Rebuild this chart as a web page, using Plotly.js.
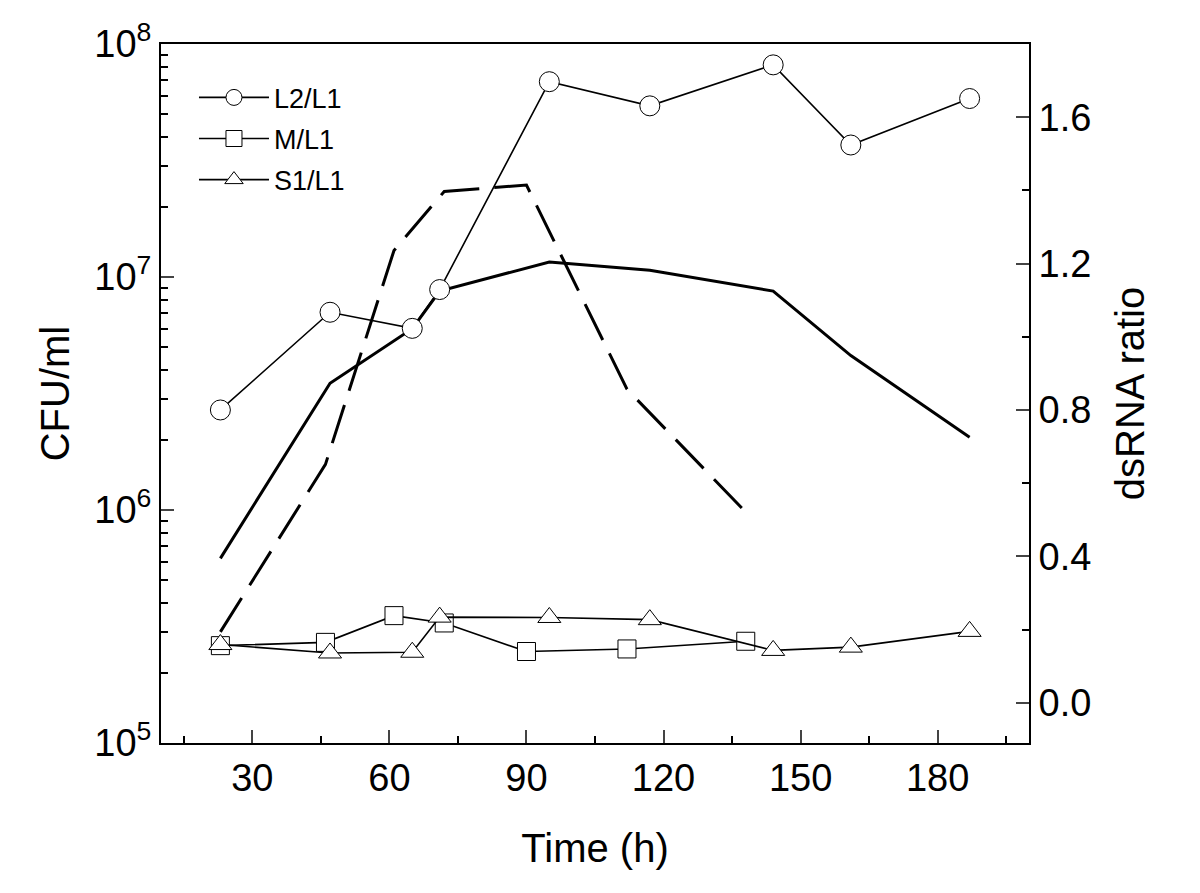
<!DOCTYPE html>
<html>
<head>
<meta charset="utf-8">
<script src="https://cdn.plot.ly/plotly-3.0.1.min.js"></script>
<style>html,body{margin:0;padding:0;background:#fff;}#chart{width:1200px;height:893px;}</style>
</head>
<body>
<div id="chart"></div>
<script>
// Sampling times (h)
const timesA = [23, 47, 65, 71, 95, 117, 144, 161, 187];
const timesB = [23, 46, 61, 72, 90, 112, 138];

// CFU/ml (left, log axis)
const cfuSolid  = [6.2e5, 3.5e6, 6.0e6, 8.7e6, 1.16e7, 1.07e7, 8.7e6, 4.6e6, 2.05e6];
const cfuDashed = [3.0e5, 1.57e6, 1.30e7, 2.33e7, 2.48e7, 3.3e6, 9.8e5];

// dsRNA ratios (right axis)
const ratioL2 = [0.80, 1.067, 1.023, 1.129, 1.697, 1.631, 1.743, 1.524, 1.651];
const ratioM  = [0.156, 0.165, 0.238, 0.218, 0.140, 0.147, 0.168];
const ratioS1 = [0.159, 0.136, 0.138, 0.234, 0.233, 0.227, 0.143, 0.152, 0.195];

const xTicks = [30, 60, 90, 120, 150, 180];
const yTicks = [1e5, 1e6, 1e7, 1e8];
const yTickText = ['10<sup>5</sup>', '10<sup>6</sup>', '10<sup>7</sup>', '10<sup>8</sup>'];
const y2Ticks = [0.0, 0.4, 0.8, 1.2, 1.6];

const FONT = 'Arial, "Liberation Sans", Helvetica, sans-serif';

const minorLog = [];
[1e5, 1e6, 1e7].forEach(d => { for (let k = 2; k <= 9; k++) minorLog.push(k * d); });

const traces = [
  {x: timesA, y: cfuSolid, type: 'scatter', mode: 'lines', yaxis: 'y',
   line: {color: '#000', width: 3}, showlegend: false, hoverinfo: 'skip'},
  {x: timesB, y: cfuDashed, type: 'scatter', mode: 'lines', yaxis: 'y',
   line: {color: '#000', width: 3, dash: '40px,15px'}, showlegend: false, hoverinfo: 'skip'},
  {x: timesA, y: ratioL2, type: 'scatter', mode: 'lines+markers', yaxis: 'y2', name: 'L2/L1',
   legendgroup: 'a',
   line: {color: '#000', width: 1.6},
   marker: {symbol: 'circle', size: 20, color: '#fff', line: {color: '#000', width: 1}}},
  {x: timesB, y: ratioM, type: 'scatter', mode: 'lines+markers', yaxis: 'y2', name: 'M/L1',
   legendgroup: 'b',
   line: {color: '#000', width: 1.6},
   marker: {symbol: 'square', size: 18, color: '#fff', line: {color: '#000', width: 1}}},
  {x: timesA, y: ratioS1, type: 'scatter', mode: 'lines+markers', yaxis: 'y2', name: 'S1/L1',
   legendgroup: 'c',
   line: {color: '#000', width: 1.6},
   marker: {symbol: 'triangle-up', size: 20, color: '#fff', line: {color: '#000', width: 1}}}
];

const layout = {
  width: 1200, height: 893,
  margin: {l: 161, r: 171, t: 44, b: 150},
  paper_bgcolor: '#fff', plot_bgcolor: '#fff',
  font: {family: FONT, color: '#000', size: 38},
  showlegend: true,
  legend: {x: 0.038, y: 0.958, xanchor: 'left', yanchor: 'top', bgcolor: 'rgba(0,0,0,0)',
           font: {family: FONT, size: 27, color: '#000'}, itemwidth: 70,
           traceorder: 'grouped', tracegroupgap: 3},
  xaxis: {
    range: [10, 200], tickvals: xTicks, ticks: 'inside', ticklen: 13, tickwidth: 2,
    showline: true, linewidth: 2, linecolor: '#000', mirror: true, showgrid: false, zeroline: false,
    tickfont: {family: FONT, size: 38},
    minor: {dtick: 15, tick0: 0, ticks: 'inside', ticklen: 7, tickwidth: 2, tickcolor: '#000'},
    title: {text: 'Time (h)', font: {family: FONT, size: 40}, standoff: 36}
  },
  yaxis: {
    type: 'log', range: [5, 8], tickvals: yTicks, ticktext: yTickText,
    ticks: 'inside', ticklen: 13, tickwidth: 2,
    showline: true, linewidth: 2, linecolor: '#000', showgrid: false, zeroline: false,
    tickfont: {family: FONT, size: 38},
    minor: {tickvals: minorLog, ticks: 'inside', ticklen: 7, tickwidth: 2, tickcolor: '#000'},
    title: {text: 'CFU/ml', font: {family: FONT, size: 40}, standoff: 12}
  },
  yaxis2: {
    overlaying: 'y', side: 'right', range: [-0.11, 1.8], tickvals: y2Ticks, tickformat: '.1f',
    ticks: 'inside', ticklen: 13, tickwidth: 2,
    showline: true, linewidth: 2, linecolor: '#000', showgrid: false, zeroline: false,
    tickfont: {family: FONT, size: 38},
    minor: {dtick: 0.2, tick0: 0, ticks: 'inside', ticklen: 7, tickwidth: 2, tickcolor: '#000'},
    title: {text: 'dsRNA ratio', font: {family: FONT, size: 40}, standoff: 26}
  }
};

Plotly.newPlot('chart', traces, layout, {staticPlot: true, displayModeBar: false});
</script>
</body>
</html>
